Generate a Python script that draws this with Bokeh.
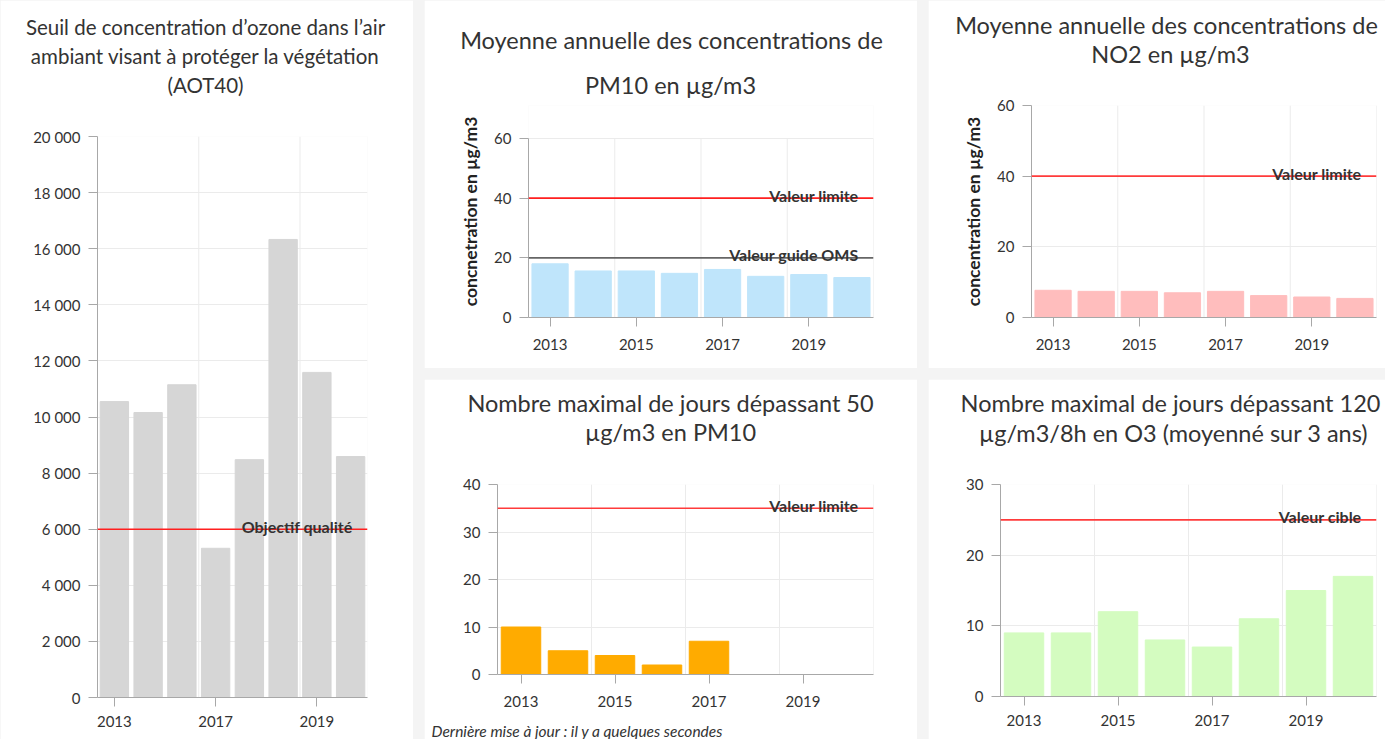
from bokeh.plotting import figure
from bokeh.models import Range1d, FixedTicker, Span, Label, Row, Column
from bokeh.embed import file_html
from bokeh.resources import INLINE

FONT = "Lato"

# ---------------- data ----------------
# AOT40 (left panel)
aot_values = [10550, 10160, 11150, 5320, 8480, 16330, 11590, 8590]
aot_tick_labels = {0: "2013", 3: "2017", 6: "2019"}
aot_yticks = list(range(0, 20001, 2000))
aot_objective = 6000

# four small panels: years 2013..2020
years = ["2013", "2014", "2015", "2016", "2017", "2018", "2019", "2020"]
shown_years = ["2013", "2015", "2017", "2019"]

pm10_avg = [18.0, 15.6, 15.6, 14.8, 16.1, 13.8, 14.4, 13.4]
pm10_limit = 40
pm10_oms = 20
pm10_yticks = [0, 20, 40, 60]

no2_avg = [7.7, 7.4, 7.4, 7.0, 7.4, 6.2, 5.8, 5.4]
no2_limit = 40
no2_yticks = [0, 20, 40, 60]

pm10_days = [10, 5, 4, 2, 7, 0, 0, 0]
pm10_days_limit = 35
pm10_days_yticks = [0, 10, 20, 30, 40]

o3_days = [9, 9, 12, 8, 7, 11, 15, 17]
o3_target = 25
o3_yticks = [0, 10, 20, 30]

TXT = "#333333"
AX = "#a8a8a8"
GRID = "#ebebeb"


def make_chart(origin, size, borders, value_px, values, color, yticks,
               tick_labels, grid_x, refs, titles, ylabel=None,
               ylabel_standoff=10, footnote=None, xlabel_standoff=12):
    """borders = (left, right, top, bottom) of the frame inside the canvas;
    value_px = (pixel of top tick, pixel of zero) in page coordinates."""
    ox, oy = origin
    w, h = size
    bl, br, bt, bb = borders
    n = len(values)
    ymax = yticks[-1]
    fl, fr = ox + bl, ox + w - br
    ft, fb = oy + bt, oy + h - bb
    top_px, zero_px = value_px
    ppu = (zero_px - top_px) / ymax
    y_start = -(fb - zero_px) / ppu
    y_end = ymax + (top_px - ft) / ppu
    xppu = (fr - fl) / n

    def to_data(X, Y):
        return -0.5 + (X - fl) / xppu, y_start + (fb - Y) / ppu

    p = figure(width=w, height=h, x_range=Range1d(-0.5, n - 0.5),
               y_range=Range1d(y_start, y_end), toolbar_location=None,
               output_backend="svg", min_border_left=bl, min_border_right=br,
               min_border_top=bt, min_border_bottom=bb)
    p.outline_line_color = None
    p.background_fill_color = "white"
    p.border_fill_color = "white"

    # grid
    p.xgrid.visible = False
    p.ygrid.ticker = FixedTicker(ticks=yticks)
    p.ygrid.grid_line_color = GRID
    p.segment(x0=grid_x, y0=[0] * len(grid_x), x1=grid_x,
              y1=[ymax] * len(grid_x), line_color=GRID, line_width=1)

    p.vbar(x=list(range(n)), top=values, width=0.84, fill_color=color,
           line_color=color, line_width=1)

    # axes
    p.xaxis.ticker = FixedTicker(ticks=list(tick_labels.keys()))
    p.xaxis.major_label_overrides = tick_labels
    p.yaxis.ticker = FixedTicker(ticks=yticks)
    p.yaxis.bounds = (0, ymax)
    p.yaxis.major_label_overrides = {
        t: f"{t:,}".replace(",", " ") for t in yticks}
    for ax in (p.xaxis[0], p.yaxis[0]):
        ax.axis_line_color = AX
        ax.major_tick_line_color = AX
        ax.minor_tick_line_color = None
        ax.major_tick_in = 0
        ax.major_tick_out = 9
        ax.major_label_text_font = FONT
        ax.major_label_text_font_size = "15px"
        ax.major_label_text_color = TXT
    p.yaxis.major_label_standoff = 8
    p.xaxis.major_label_standoff = xlabel_standoff
    if ylabel:
        p.yaxis.axis_label = ylabel
        p.yaxis.axis_label_text_font = FONT
        p.yaxis.axis_label_text_font_style = "bold"
        p.yaxis.axis_label_text_font_size = "17.5px"
        p.yaxis.axis_label_text_color = "#222222"
        p.yaxis.axis_label_standoff = ylabel_standoff

    # reference lines
    for val, lcolor, text in refs:
        p.add_layout(Span(location=val, dimension="width", line_color=lcolor,
                          line_width=1.6))
        p.add_layout(Label(x=n - 0.5, y=val, x_offset=-15, y_offset=3,
                           text=text, text_align="right",
                           text_baseline="alphabetic", text_font=FONT,
                           text_font_style="bold", text_font_size="16px",
                           text_color=TXT))

    # titles: placed in the side panels (not clipped), positioned in data units
    for text, X, Y, fs in titles:
        x, y = to_data(X, Y)
        p.add_layout(Label(x=x, y=y, text=text, text_align="center",
                           text_baseline="middle", text_font=FONT,
                           text_font_size=fs, text_color=TXT), "above")
    if footnote:
        text, X, Y = footnote
        x, y = to_data(X, Y)
        p.add_layout(Label(x=x, y=y, text=text, text_align="left",
                           text_baseline="middle", text_font=FONT,
                           text_font_style="italic", text_font_size="15.5px",
                           text_color=TXT), "below")
    return p


small_labels = {years.index(y): y for y in shown_years}
small_grid = [1.5, 3.5, 5.5, 7.5]

left = make_chart(
    (0, 0), (413, 739), (97, 46, 136, 42), (136, 697), aot_values, "#d6d6d6",
    aot_yticks, aot_tick_labels, [2.5, 5.5],
    [(aot_objective, "#ff1f1f", "Objectif qualité")],
    [("Seuil de concentration d’ozone dans l’air", 205, 26, "20.5px"),
     ("ambiant visant à protéger la végétation", 205, 55, "20.5px"),
     ("(AOT40)", 205, 84, "20.5px")],
    xlabel_standoff=9)

f_pm10 = make_chart(
    (424, 0), (493, 368), (104, 44, 105, 51), (138, 317), pm10_avg, "#bfe5fb",
    pm10_yticks, small_labels, small_grid,
    [(pm10_limit, "#ff1f1f", "Valeur limite"),
     (pm10_oms, "#666666", "Valeur guide OMS")],
    [("Moyenne annuelle des concentrations de", 671, 39, "23.5px"),
     ("PM10 en µg/m3", 670, 84, "23.5px")],
    ylabel="concnetration en µg/m3")

f_no2 = make_chart(
    (928, 0), (457, 368), (103, 9, 105, 51), (105, 317), no2_avg, "#ffbdbd",
    no2_yticks, small_labels, small_grid,
    [(no2_limit, "#ff3b3b", "Valeur limite")],
    [("Moyenne annuelle des concentrations de", 1166, 24, "23.5px"),
     ("NO2 en µg/m3", 1170, 53, "23.5px")],
    ylabel="concentration en µg/m3")

f_days = make_chart(
    (424, 379), (493, 360), (73, 44, 105, 65), (484, 674), pm10_days,
    "#ffab00", pm10_days_yticks, small_labels, small_grid,
    [(pm10_days_limit, "#ff3b3b", "Valeur limite")],
    [("Nombre maximal de jours dépassant 50", 670, 402, "23.5px"),
     ("µg/m3 en PM10", 670, 431, "23.5px")],
    footnote=("Dernière mise à jour : il y a quelques secondes", 431, 730))

f_o3 = make_chart(
    (928, 379), (457, 360), (72, 9, 105, 43), (484, 696), o3_days, "#d4fcc0",
    o3_yticks, small_labels, small_grid,
    [(o3_target, "#ff3b3b", "Valeur cible")],
    [("Nombre maximal de jours dépassant 120", 1170, 402, "23.5px"),
     ("µg/m3/8h en O3 (moyenné sur 3 ans)", 1173, 432, "23.5px")],
    xlabel_standoff=9)

right = Column(children=[
    Row(children=[f_pm10, f_no2], spacing=11),
    Row(children=[Column(children=[f_days]), Column(children=[f_o3])],
        spacing=11)],
    spacing=11)
page = Row(children=[left, right], spacing=11,
           styles={"background-color": "#f4f4f4"})

open("out.html", "w").write(file_html(page, INLINE))
